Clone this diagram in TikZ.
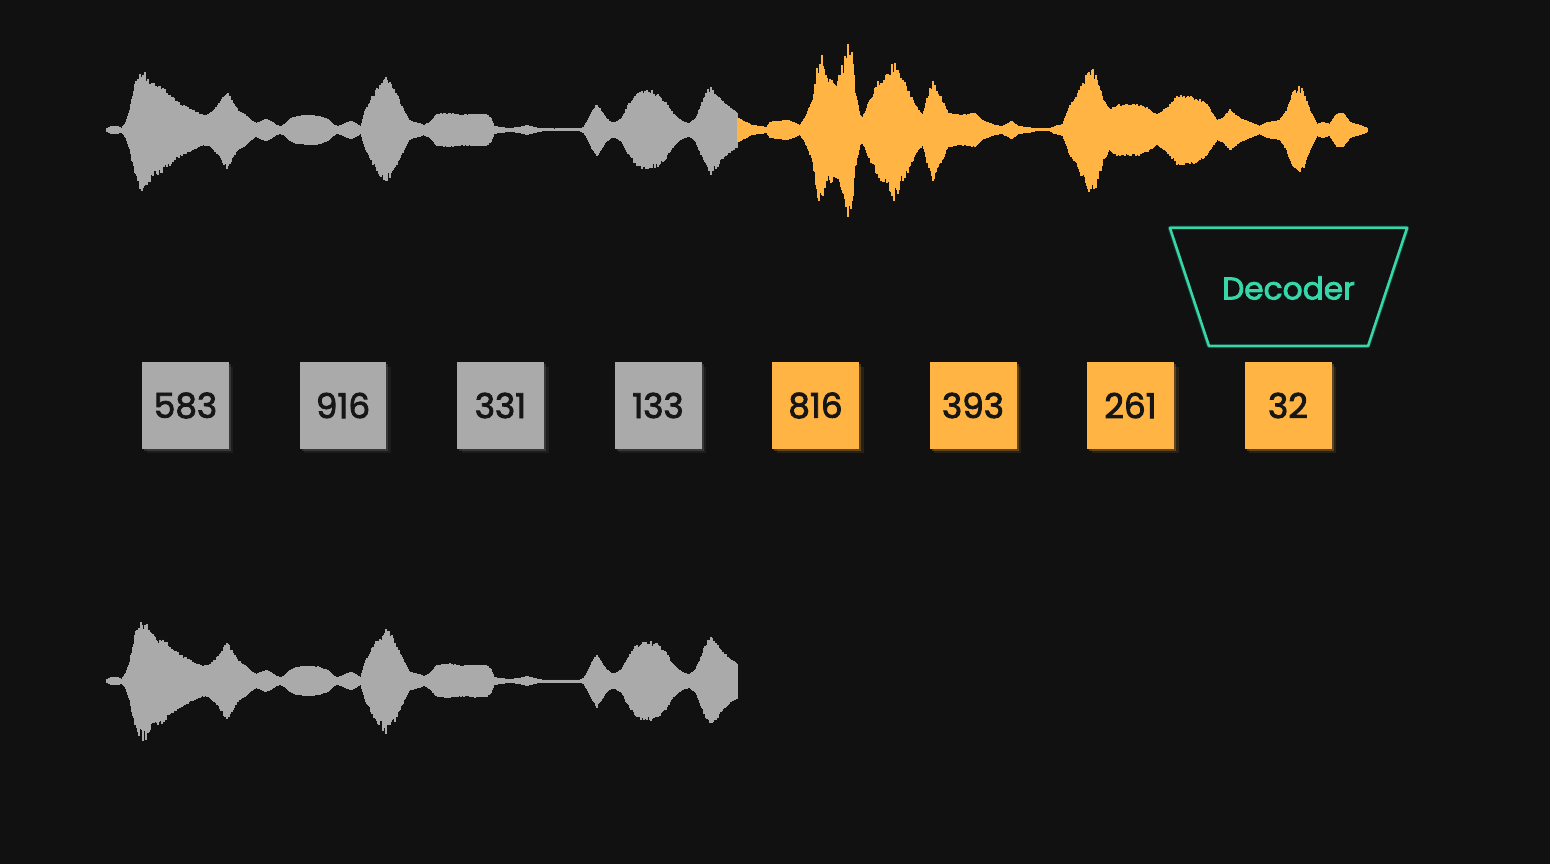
\documentclass[tikz,border=0pt]{standalone}
\usepackage{fontspec}
\setmainfont{Poppins}
\newfontfamily\medfont{Poppins}[FakeBold=2.5]
\usepackage{xcolor}
\usepackage{tikz}
\usetikzlibrary{shadows}
\definecolor{bg}{HTML}{111111}
\definecolor{wavegray}{HTML}{AAAAAA}
\definecolor{waveorange}{HTML}{FFB443}
\definecolor{decgreen}{HTML}{36D8AA}
\definecolor{ink}{HTML}{161616}

\tikzset{
  wavebar/.style={line width=0.028cm},
  token/.style={minimum size=1.74cm, inner sep=0pt, text=ink,
    font=\medfont\fontsize{19.5}{23}\selectfont},
  graytok/.style={token, fill=wavegray,
    drop shadow={shadow xshift=0.04cm, shadow yshift=-0.04cm, fill=wavegray, opacity=0.2},
    drop shadow={shadow xshift=0.09cm, shadow yshift=-0.09cm, fill=wavegray, opacity=0.08}},
  orangetok/.style={token, fill=waveorange,
    drop shadow={shadow xshift=0.04cm, shadow yshift=-0.04cm, fill=waveorange, opacity=0.25},
    drop shadow={shadow xshift=0.09cm, shadow yshift=-0.09cm, fill=waveorange, opacity=0.1}},
}

% one waveform: keys x/amp (a macro), colour, centre line, first x, first amp%
\newcommand{\drawwave}[5]{%
  \foreach \xb/\ab [remember=\xb as \xa (initially #4), remember=\ab as \aa (initially #5)] in #1 {
    \pgfmathtruncatemacro\xe{\xb-1}
    \foreach \x in {\xa,...,\xe} {
      \pgfmathsetmacro\amp{\aa+(\ab-\aa)*(\x-\xa)/(\xb-\xa)}
      \draw[wavebar, #2] (\x,{#3-\amp-0.0045*\amp*\amp*(rnd-0.55)})
        -- (\x,{#3+\amp+0.0045*\amp*\amp*(rnd-0.55)});
    }
  }%
}

\def\graykeys{112/4, 118/4, 122/2, 126/8, 130/20, 134/40, 138/52, 143/58, 148/50,
  155/42, 163/40, 172/32, 180/26, 188/22, 196/18, 203/15, 209/16, 216/22, 222/30,
  227/38, 232/30, 238/20, 245/16, 251/10, 256/7, 261/9, 266/11, 271/9, 276/5, 281/4,
  285/6, 290/11, 297/14, 309/15, 320/14, 328/11, 333/6, 337/4, 342/5, 347/8, 352/9,
  357/6, 361/4, 365/18, 372/32, 379/42, 386/49, 393/42, 399/30, 404/20, 409/10,
  414/8, 419/7, 424/5, 430/8, 437/16, 450/17, 462/15, 475/16, 486/16, 491/12, 494/4,
  500/3, 510/2, 520/3, 527/5, 534/3, 542/1.5, 580/1.5, 584/3, 588/10, 592/18, 597/26,
  602/18, 606/12, 611/8, 616/8, 622/12, 628/24, 636/34, 647/39, 658/35, 666/28,
  672/18, 678/12, 684/8, 690/7, 696/12, 701/24, 706/36, 711/42, 717/36, 723/28,
  730/22, 738/17}
\def\orangekeys{752/5, 767/3, 770/8, 778/9, 788/10, 800/5, 805/12, 813/32, 817/60,
  822/68, 828/52, 838/46, 842/62, 848/76, 852/70, 855/40, 860/15, 863/13, 868/25,
  878/45, 888/52, 895/66, 900/52, 908/40, 918/20, 923/15, 928/35, 933/48, 942/30,
  948/17, 962/15, 975/17, 982/10, 995/5, 1002/4, 1012/9, 1018/4, 1028/3, 1035/1.5,
  1050/1.5, 1055/4, 1063/6, 1070/25, 1077/35, 1087/55, 1092/60, 1097/55, 1103/30,
  1110/20, 1117/25, 1137/25, 1147/22, 1157/15, 1167/22, 1177/33, 1193/33, 1207/25,
  1217/10, 1223/12, 1230/20, 1240/12, 1250/8, 1260/4, 1267/8, 1280/10, 1287/20,
  1293/38, 1298/42, 1303/38, 1310/20, 1317/6, 1323/8, 1330/6, 1337/17, 1343/17,
  1350/8, 1360/5, 1368/2}

\begin{document}
\begin{tikzpicture}[x=0.02cm, y=-0.02cm]
\pgfmathsetseed{7}
\fill[bg] (0,0) rectangle (1550,864); %background%

% top wave: gray then orange%
\drawwave{\graykeys}{wavegray}{130}{107}{2}
\drawwave{\orangekeys}{waveorange}{130}{738}{12}

% bottom wave, gray part only%
\drawwave{\graykeys}{wavegray}{681}{107}{2}

% tokens%
\foreach \lab [count=\i] in {583,916,331,133}
  \node[graytok] (tok\i) at ({185.5+157.5*(\i-1)},405.5) {\lab};
\foreach \lab [count=\i from 5] in {816,393,261,32}
  \node[orangetok] (tok\i) at ({185.5+157.5*(\i-1)},405.5) {\lab};

% decoder%
\coordinate (D1) at (1170,228);
\coordinate (D2) at (1407,228);
\coordinate (D3) at (1368,346);
\coordinate (D4) at (1209,346);
\draw[decgreen, opacity=0.12, line width=0.1cm, line join=round, shift={(4,6)}] (D1) -- (D2) -- (D3) -- (D4) -- cycle; %glow%
\draw[decgreen, opacity=0.3, line width=0.07cm, line join=round, shift={(2,3)}] (D1) -- (D2) -- (D3) -- (D4) -- cycle;
\draw[decgreen, fill=bg, line width=0.05cm, line join=round] (D1) -- (D2) -- (D3) -- (D4) -- cycle;
\node[text=decgreen, font=\medfont\fontsize{17.8}{21}\selectfont] (dec) at (1288.5,288) {Decoder};

\end{tikzpicture}
\end{document}
